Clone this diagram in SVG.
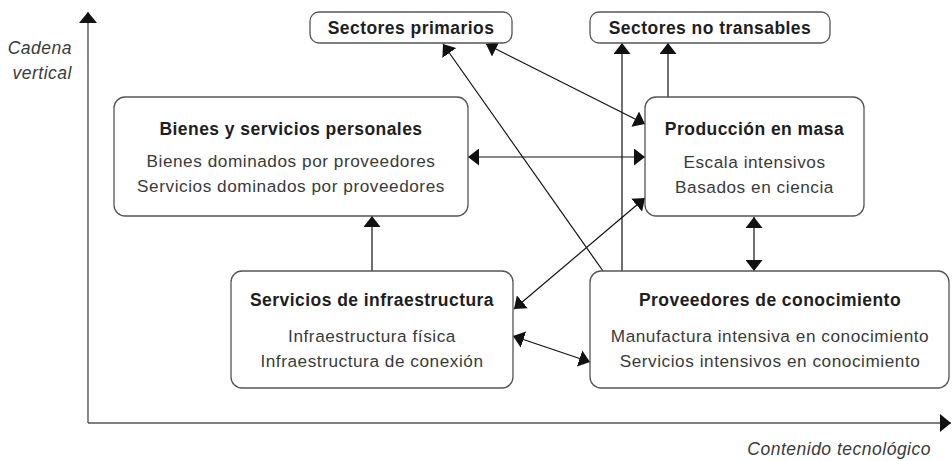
<svg xmlns="http://www.w3.org/2000/svg" width="952" height="461" viewBox="0 0 952 461">
<defs>
<marker id="ah" viewBox="0 0 11 17" refX="11" refY="8.5" markerWidth="11" markerHeight="17" markerUnits="userSpaceOnUse" orient="auto-start-reverse">
<path d="M0,0 L11,8.5 L0,17 Z" fill="#111"/>
</marker>
<marker id="axh" viewBox="0 0 11 18" refX="11" refY="9" markerWidth="11" markerHeight="18" markerUnits="userSpaceOnUse" orient="auto">
<path d="M0,0 L11,9 L0,18 Z" fill="#111"/>
</marker>
<style>
.box{fill:#fff;stroke:#555;stroke-width:1.3}
.t{font-family:"Liberation Sans",Arial,sans-serif;font-weight:bold;font-size:17.5px;letter-spacing:0.45px;fill:#1e1e1e;text-anchor:middle}
.l{font-family:"Liberation Sans",Arial,sans-serif;font-size:17.2px;letter-spacing:0.55px;fill:#3a3a3a;text-anchor:middle}
.ax{font-family:"Liberation Sans",Arial,sans-serif;font-style:italic;font-size:17.5px;letter-spacing:0.5px;fill:#3a3a3a;text-anchor:end}
.c{stroke:#111;stroke-width:1.2;fill:none}
.axis{stroke:#555;stroke-width:1.4;fill:none}
</style>
</defs>
<g id="axes">
<line class="axis" x1="88" y1="423" x2="88" y2="12" marker-end="url(#axh)"/>
<line class="axis" x1="88" y1="423" x2="951" y2="423" marker-end="url(#axh)"/>
<text class="ax" x="72" y="54">Cadena</text>
<text class="ax" x="72" y="79">vertical</text>
<text class="ax" x="931" y="455">Contenido tecnológico</text>
</g>
<g id="connectors">
<line class="c" x1="603" y1="271" x2="443" y2="44" marker-end="url(#ah)"/>
<line class="c" x1="486" y1="44" x2="645" y2="124" marker-start="url(#ah)" marker-end="url(#ah)"/>
<line class="c" x1="468" y1="157" x2="645" y2="157" marker-start="url(#ah)" marker-end="url(#ah)"/>
<line class="c" x1="645" y1="198" x2="514" y2="309" marker-start="url(#ah)" marker-end="url(#ah)"/>
<line class="c" x1="513" y1="336" x2="590" y2="362" marker-start="url(#ah)" marker-end="url(#ah)"/>
<line class="c" x1="754" y1="217" x2="754" y2="271" marker-start="url(#ah)" marker-end="url(#ah)"/>
<line class="c" x1="372" y1="271" x2="372" y2="216" marker-end="url(#ah)"/>
<line class="c" x1="622" y1="271" x2="622" y2="43" marker-end="url(#ah)"/>
<line class="c" x1="668" y1="97" x2="668" y2="43" marker-end="url(#ah)"/>
</g>
<g id="sectores-primarios">
<rect class="box" x="310" y="12" width="202" height="31" rx="9"/>
<text class="t" x="411" y="34">Sectores primarios</text>
</g>
<g id="sectores-no-transables">
<rect class="box" x="590" y="12" width="240" height="31" rx="9"/>
<text class="t" x="710" y="34">Sectores no transables</text>
</g>
<g id="bienes-servicios">
<rect class="box" x="114" y="97" width="354" height="119" rx="11"/>
<text class="t" x="291" y="135">Bienes y servicios personales</text>
<text class="l" x="291" y="167">Bienes dominados por proveedores</text>
<text class="l" x="291" y="192">Servicios dominados por proveedores</text>
</g>
<g id="produccion-masa">
<rect class="box" x="645" y="97" width="219" height="119" rx="11"/>
<text class="t" x="754.5" y="135">Producción en masa</text>
<text class="l" x="754.5" y="168">Escala intensivos</text>
<text class="l" x="754.5" y="193">Basados en ciencia</text>
</g>
<g id="servicios-infraestructura">
<rect class="box" x="231" y="271" width="282" height="117" rx="11"/>
<text class="t" x="372" y="306">Servicios de infraestructura</text>
<text class="l" x="372" y="342">Infraestructura física</text>
<text class="l" x="372" y="367">Infraestructura de conexión</text>
</g>
<g id="proveedores-conocimiento">
<rect class="box" x="590" y="271" width="359" height="117" rx="11"/>
<text class="t" x="770" y="306">Proveedores de conocimiento</text>
<text class="l" x="770" y="342">Manufactura intensiva en conocimiento</text>
<text class="l" x="770" y="367">Servicios intensivos en conocimiento</text>
</g>
</svg>
